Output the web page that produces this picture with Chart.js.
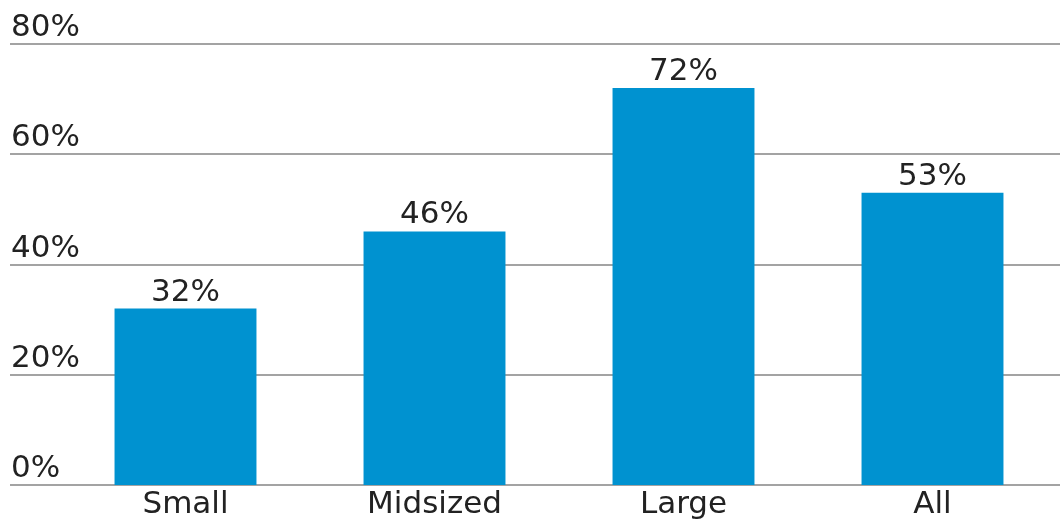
<!DOCTYPE html>
<html>
<head>
<meta charset="utf-8">
<script src="https://cdn.jsdelivr.net/npm/chart.js@4/dist/chart.umd.min.js"></script>
<style>
  body { margin: 0; background: #fff; }
  #wrap { width: 1060px; height: 525px; position: relative; }
</style>
</head>
<body>
<div id="wrap"><canvas id="sizeChart"></canvas></div>
<script>
const categories = ['Small', 'Midsized', 'Large', 'All'];
const shares = [32, 46, 72, 53];
const yTicks = [0, 20, 40, 60, 80];

const FONT = '"DejaVu Sans", sans-serif';

// gridlines + y labels drawn above each line, starting at the left edge
const gridAndLabels = {
    id: 'gridAndLabels',
    beforeDatasetsDraw: function (chart) {
        const ctx = chart.ctx;
        const y = chart.scales.y;
        ctx.save();
        ctx.strokeStyle = '#a3a3a3';
        ctx.lineWidth = 2;
        ctx.fillStyle = '#222';
        ctx.font = '31px ' + FONT;
        ctx.textAlign = 'left';
        ctx.textBaseline = 'alphabetic';
        yTicks.forEach(function (t) {
            const py = Math.round(y.getPixelForValue(t));
            ctx.beginPath();
            ctx.moveTo(10, py);
            ctx.lineTo(chart.width, py);
            ctx.stroke();
            ctx.fillText(t + '%', 11, py - 8);
        });
        ctx.restore();
    },
    afterDatasetsDraw: function (chart) {
        const ctx = chart.ctx;
        const meta = chart.getDatasetMeta(0);
        ctx.save();
        ctx.fillStyle = '#222';
        ctx.font = '31px ' + FONT;
        ctx.textAlign = 'center';
        ctx.textBaseline = 'alphabetic';
        meta.data.forEach(function (bar, i) {
            ctx.fillText(shares[i] + '%', bar.x, bar.y - 8);
        });
        ctx.restore();
    }
};

new Chart(document.getElementById('sizeChart').getContext('2d'), {
    type: 'bar',
    data: {
        labels: categories,
        datasets: [{
            data: shares,
            backgroundColor: '#0092d0',
            barPercentage: 0.57,
            categoryPercentage: 1.0
        }]
    },
    options: {
        responsive: true,
        maintainAspectRatio: false,
        animation: false,
        layout: { padding: { left: 61, right: 3, top: 44, bottom: 0 } },
        plugins: {
            legend: { display: false },
            tooltip: { enabled: false }
        },
        scales: {
            x: {
                grid: { display: false, drawTicks: false },
                border: { display: false },
                ticks: {
                    color: '#222',
                    font: { family: FONT, size: 31 },
                    padding: 1,
                    maxRotation: 0
                },
                afterFit: function (scale) { scale.height = 40; }
            },
            y: {
                display: false,
                min: 0,
                max: 80
            }
        }
    },
    plugins: [gridAndLabels]
});
</script>
</body>
</html>
